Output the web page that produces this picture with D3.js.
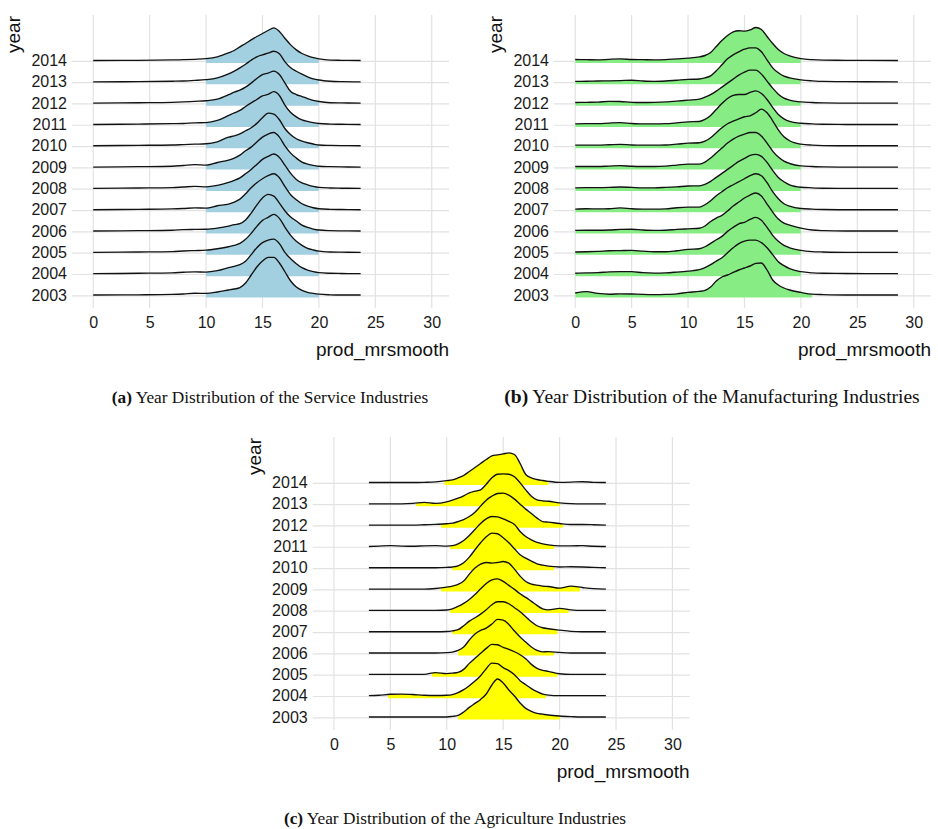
<!DOCTYPE html>
<html>
<head>
<meta charset="utf-8">
<script src="https://cdn.jsdelivr.net/npm/d3@7"></script>
<style>
  body { margin: 0; background: #fff; }
  svg { display: block; }
</style>
</head>
<body>
<svg id="chart" width="938" height="829"></svg>
<script>
// ---- data -------------------------------------------------------------
const years = [2014, 2013, 2012, 2011, 2010, 2009, 2008, 2007, 2006, 2005, 2004, 2003];
const xTicks = [0, 5, 10, 15, 20, 25, 30];

// Service industries: estimated density of prod_mrsmooth per year
const serviceX = [0, 4, 7, 8, 9, 10, 11, 12, 12.5, 13, 13.5, 14, 14.5, 15, 15.5, 16, 16.5, 17, 17.5, 18, 18.5, 19, 19.5, 20, 21, 22, 23.7];
const serviceDensity = [
  [0,.001,.003,.004,.006,.009,.018,.038,.050,.068,.085,.103,.120,.135,.150,.163,.145,.110,.078,.053,.035,.023,.014,.008,.002,.001,0],
  [0,.001,.003,.004,.007,.011,.020,.040,.053,.070,.088,.108,.125,.135,.143,.153,.140,.100,.070,.053,.038,.025,.015,.009,.003,.001,0],
  [0,.002,.004,.006,.009,.012,.020,.042,.055,.065,.080,.100,.123,.143,.150,.160,.143,.100,.058,.043,.033,.023,.014,.008,.002,.001,0],
  [0,.002,.004,.005,.008,.009,.020,.045,.058,.070,.090,.108,.125,.143,.150,.164,.145,.095,.060,.038,.023,.015,.009,.005,.002,.001,0],
  [0,.002,.004,.006,.008,.010,.020,.043,.050,.060,.075,.090,.112,.140,.163,.158,.130,.085,.055,.035,.023,.015,.009,.004,.002,.001,0],
  [0,.002,.004,.008,.012,.010,.023,.035,.045,.060,.082,.100,.125,.150,.165,.173,.150,.105,.070,.045,.025,.015,.009,.004,.002,.001,0],
  [0,.002,.004,.007,.010,.008,.015,.030,.040,.053,.073,.095,.120,.145,.160,.172,.155,.115,.075,.045,.028,.018,.010,.005,.002,.001,0],
  [0,.002,.004,.006,.009,.008,.020,.028,.038,.053,.080,.110,.135,.155,.170,.180,.160,.115,.075,.050,.030,.018,.010,.005,.002,.001,0],
  [0,.002,.004,.007,.008,.009,.015,.025,.032,.037,.055,.090,.130,.165,.183,.175,.140,.100,.070,.050,.030,.018,.010,.005,.002,.001,0],
  [0,.002,.004,.007,.009,.011,.018,.028,.035,.045,.065,.095,.130,.160,.175,.190,.170,.125,.085,.055,.035,.020,.012,.006,.002,.001,0],
  [0,.002,.004,.007,.009,.008,.015,.030,.037,.045,.062,.095,.130,.155,.168,.173,.150,.105,.075,.050,.030,.018,.010,.005,.002,.001,0],
  [0,.001,.003,.005,.009,.008,.015,.025,.030,.037,.060,.100,.140,.170,.188,.188,.160,.115,.070,.040,.023,.013,.008,.004,.001,0,0]
];
const serviceFillFrom = [10, 10, 10, 10, 10, 10, 10, 10, 10, 10, 10, 10];
const serviceFillTo   = [20, 20, 20, 20, 20, 20, 20, 20, 20, 20, 20, 20];

// Manufacturing industries
const manufX = [0, 1, 2, 3, 4, 5, 6, 7, 8, 9, 10, 11, 11.5, 12, 12.5, 13, 13.5, 14, 14.5, 15, 15.5, 16, 16.5, 17, 17.5, 18, 18.5, 19, 20, 21, 22, 24, 28.6];
const manufDensity = [
  [.005,.004,.003,.006,.008,.005,.004,.003,.004,.008,.012,.018,.025,.040,.070,.100,.125,.143,.149,.147,.153,.165,.155,.120,.085,.055,.035,.023,.009,.004,.002,.001,0],
  [.002,.003,.004,.005,.006,.008,.004,.002,.004,.008,.012,.014,.020,.030,.055,.085,.115,.135,.150,.163,.170,.170,.150,.110,.070,.045,.028,.020,.010,.005,.002,.001,0],
  [.003,.004,.005,.009,.008,.004,.003,.004,.006,.010,.015,.020,.030,.043,.060,.080,.100,.120,.140,.155,.165,.165,.145,.110,.075,.045,.025,.015,.006,.003,.001,0,0],
  [.003,.004,.004,.007,.009,.005,.003,.003,.004,.008,.013,.015,.025,.045,.075,.105,.130,.145,.150,.150,.160,.168,.155,.125,.085,.050,.028,.015,.006,.003,.001,0,0],
  [.003,.003,.003,.005,.007,.004,.003,.003,.004,.008,.013,.015,.023,.040,.065,.090,.110,.123,.135,.145,.150,.165,.183,.165,.125,.080,.045,.025,.008,.003,.001,0,0],
  [.003,.003,.003,.005,.007,.004,.003,.003,.005,.010,.015,.015,.025,.045,.070,.095,.120,.140,.155,.165,.173,.173,.155,.120,.080,.050,.030,.018,.006,.003,.001,0,0],
  [.003,.004,.004,.005,.007,.005,.003,.003,.005,.008,.012,.013,.020,.035,.055,.075,.095,.115,.135,.150,.165,.170,.160,.130,.090,.055,.033,.018,.006,.003,.001,0,0],
  [.003,.005,.004,.005,.009,.005,.003,.003,.004,.010,.013,.013,.025,.045,.070,.090,.110,.125,.140,.155,.170,.180,.170,.135,.090,.055,.030,.018,.006,.003,.001,0,0],
  [.003,.004,.004,.005,.008,.009,.005,.003,.004,.008,.011,.014,.025,.048,.065,.078,.100,.125,.145,.165,.180,.190,.175,.135,.095,.060,.040,.030,.015,.005,.002,0,0],
  [.002,.003,.005,.008,.009,.010,.006,.003,.003,.008,.015,.018,.028,.045,.063,.080,.105,.125,.143,.150,.165,.175,.160,.125,.085,.055,.035,.023,.010,.004,.002,0,0],
  [.002,.004,.005,.009,.010,.010,.005,.003,.004,.008,.013,.020,.030,.045,.063,.080,.105,.130,.150,.163,.168,.168,.155,.130,.095,.060,.040,.025,.010,.004,.002,.001,0],
  [.010,.017,.008,.004,.006,.005,.003,.002,.003,.006,.013,.018,.023,.040,.070,.090,.100,.113,.125,.135,.145,.158,.160,.125,.075,.050,.035,.025,.013,.004,.002,0,0]
];
const manufFillFrom = [0, 0, 0, 0, 0, 0, 0, 0, 0, 0, 0, 0];
const manufFillTo   = [20, 20, 20, 20, 20, 20, 20, 20, 20, 20, 20, 21];

// Agriculture industries
const agriX = [3.1, 4, 5, 6, 7, 8, 9, 10, 10.5, 11, 11.5, 12, 12.5, 13, 13.5, 14, 14.5, 15, 15.5, 16, 16.5, 17, 17.5, 18, 18.5, 19, 20, 21, 22, 23, 24.1];
const agriDensity = [
  [0,0,0,0,0,.001,.003,.009,.013,.023,.035,.055,.075,.095,.115,.133,.138,.143,.148,.140,.095,.040,.023,.015,.010,.006,.001,.002,.004,.001,0],
  [0,0,0,0,.002,.007,.002,.010,.018,.028,.040,.055,.063,.070,.098,.130,.148,.150,.148,.135,.105,.070,.038,.020,.015,.013,.005,.001,0,0,0],
  [0,0,0,0,0,.002,.004,.007,.010,.018,.028,.043,.065,.095,.125,.145,.158,.160,.150,.130,.105,.080,.058,.035,.018,.015,.008,.003,.003,.002,0],
  [0,.002,.004,.002,.001,.003,.004,.002,.004,.013,.030,.055,.085,.115,.138,.150,.148,.138,.125,.110,.075,.050,.033,.020,.013,.008,.003,.003,.004,.001,0],
  [0,0,0,0,0,0,0,.002,.004,.010,.025,.053,.090,.125,.155,.173,.170,.150,.125,.095,.065,.048,.033,.020,.013,.008,.004,.005,.004,.002,0],
  [0,0,0,0,0,0,.003,.010,.015,.023,.040,.075,.105,.125,.133,.130,.133,.138,.130,.100,.065,.038,.025,.020,.015,.013,.005,.015,.008,.002,0],
  [0,0,0,0,0,0,0,.002,.008,.020,.035,.055,.080,.108,.135,.153,.158,.145,.125,.105,.083,.065,.045,.025,.008,.003,.010,.003,0,0,0],
  [0,0,0,0,0,0,0,.001,.004,.010,.030,.053,.070,.088,.110,.135,.150,.150,.140,.120,.100,.075,.050,.030,.020,.015,.008,.002,0,0,0],
  [0,0,0,0,0,0,0,.002,.005,.013,.030,.065,.095,.113,.125,.145,.168,.165,.143,.110,.080,.055,.030,.013,.006,.007,.003,0,0,0,0],
  [0,0,0,0,0,0,.009,.004,.006,.010,.025,.055,.080,.105,.130,.150,.148,.135,.125,.113,.098,.078,.050,.030,.020,.015,.003,0,0,0,0],
  [0,.002,.007,.008,.006,.002,.001,.002,.005,.015,.030,.050,.073,.100,.135,.163,.160,.140,.125,.105,.075,.055,.035,.020,.008,.003,0,0,0,0,0],
  [0,0,0,0,0,0,0,0,.003,.008,.025,.048,.068,.088,.115,.160,.190,.170,.135,.105,.070,.043,.028,.018,.014,.010,.005,.002,0,0,0]
];
const agriFillFrom = [9.8, 7.3, 9.5, 10.3, 10.5, 9.5, 10.3, 10.5, 11, 8.7, 4.8, 11];
const agriFillTo   = [19, 20, 20.3, 19.5, 19.5, 21.8, 20.8, 19.8, 19.5, 19.8, 18.8, 20];

// ---- drawing ----------------------------------------------------------
const svg = d3.select('#chart');
const sans = '"Liberation Sans", Arial, Helvetica, sans-serif';
const serif = '"Liberation Serif", "Times New Roman", Times, serif';
const PLOT_W = 377, PLOT_H = 293;
const ridgeHeight = d3.scaleLinear().domain([0, 0.2]).range([0, 40]);
let clipId = 0;

function drawPanel(p) {
  const g = svg.append('g');
  const x = d3.scaleLinear().domain([-1.88, 31.53]).range([p.left, p.left + PLOT_W]);
  const y = d3.scalePoint().domain(years).range([p.top + 45.5, p.top + 280]);
  const bottom = p.top + PLOT_H;

  // grid
  g.append('g').selectAll('line').data(xTicks).join('line')
    .attr('x1', d => x(d)).attr('x2', d => x(d))
    .attr('y1', p.top).attr('y2', bottom)
    .attr('stroke', '#e2e2e2').attr('stroke-width', 1.2);
  g.append('g').selectAll('line').data(years).join('line')
    .attr('x1', p.left).attr('x2', p.left + PLOT_W)
    .attr('y1', d => y(d) + 0.8).attr('y2', d => y(d) + 0.8)
    .attr('stroke', '#e2e2e2').attr('stroke-width', 1.2);

  // ridges, top row first so lower rows overlay upper ones
  const ridges = g.append('g');
  years.forEach((yr, i) => {
    const base = y(yr);
    const pts = p.xs.map((v, j) => [v, p.dens[i][j]]);
    const id = 'clip' + (clipId++);
    svg.append('clipPath').attr('id', id).append('rect')
      .attr('x', x(p.fillFrom[i])).attr('width', x(p.fillTo[i]) - x(p.fillFrom[i]))
      .attr('y', base - 60).attr('height', 64);
    const area = d3.area().curve(d3.curveMonotoneX)
      .x(d => x(d[0])).y0(base + 2.5).y1(d => base - ridgeHeight(d[1]));
    const line = d3.line().curve(d3.curveMonotoneX)
      .x(d => x(d[0])).y(d => base - ridgeHeight(d[1]));
    ridges.append('path').attr('d', area(pts)).attr('fill', p.color)
      .attr('clip-path', `url(#${id})`);
    ridges.append('path').attr('d', line(pts)).attr('fill', 'none')
      .attr('stroke', '#111').attr('stroke-width', 1.35).attr('stroke-linejoin', 'round');
  });

  // axes
  const ax = g.append('g').attr('transform', `translate(0,${bottom})`)
    .call(d3.axisBottom(x).tickValues(xTicks).tickSize(0).tickPadding(9));
  const ay = g.append('g').attr('transform', `translate(${p.left},0)`)
    .call(d3.axisLeft(y).tickSize(0).tickPadding(5));
  [ax, ay].forEach(a => {
    a.select('.domain').remove();
    a.selectAll('text').attr('font-family', sans).attr('font-size', 16).attr('fill', '#1a1a1a');
  });

  // axis titles
  g.append('text').attr('transform', `translate(${p.left - 52},${p.top + 1}) rotate(-90)`)
    .attr('text-anchor', 'end').attr('font-family', sans).attr('font-size', 19)
    .attr('fill', '#111').text('year');
  g.append('text').attr('x', p.left + PLOT_W).attr('y', bottom + 48)
    .attr('text-anchor', 'end').attr('font-family', sans).attr('font-size', 19)
    .attr('fill', '#111').text('prod_mrsmooth');

  // caption
  const cap = svg.append('text').attr('x', p.capX).attr('y', p.capY)
    .attr('text-anchor', 'middle').attr('font-family', serif).attr('font-size', p.capSize)
    .attr('fill', '#111');
  cap.append('tspan').attr('font-weight', 'bold').text(p.tag);
  cap.append('tspan').text(' ' + p.caption);
}

drawPanel({ left: 72, top: 15, xs: serviceX, dens: serviceDensity,
  fillFrom: serviceFillFrom, fillTo: serviceFillTo, color: '#a2d0e0',
  tag: '(a)', caption: 'Year Distribution of the Service Industries', capX: 270, capY: 403, capSize: 17.3 });
drawPanel({ left: 554, top: 15, xs: manufX, dens: manufDensity,
  fillFrom: manufFillFrom, fillTo: manufFillTo, color: '#88ec84',
  tag: '(b)', caption: 'Year Distribution of the Manufacturing Industries', capX: 712, capY: 403, capSize: 19.5 });
drawPanel({ left: 312.7, top: 437, xs: agriX, dens: agriDensity,
  fillFrom: agriFillFrom, fillTo: agriFillTo, color: '#ffff00',
  tag: '(c)', caption: 'Year Distribution of the Agriculture Industries', capX: 455, capY: 824, capSize: 17.3 });
</script>
</body>
</html>
